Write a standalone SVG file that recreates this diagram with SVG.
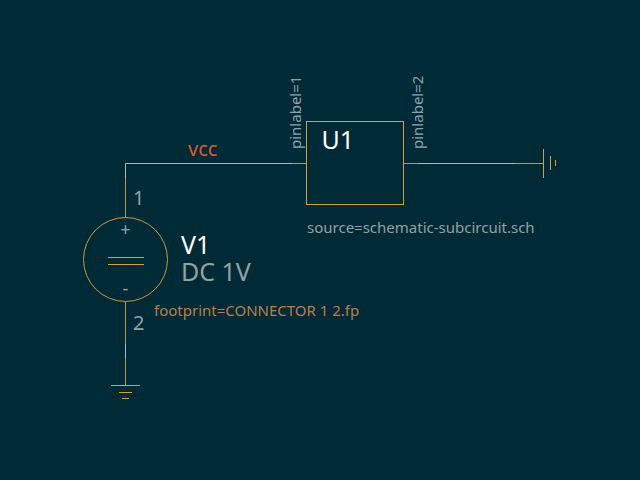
<svg xmlns="http://www.w3.org/2000/svg" width="640" height="480" viewBox="0 0 640 480">
<style>
text{font-family:"Noto Sans","Open Sans",sans-serif}
.w{stroke:#a9bcbf;stroke-width:1;fill:none}
.p{stroke:#b8975f;stroke-width:1;fill:none}
.s{stroke:#d4a136;stroke-width:1;fill:none}
.g{fill:#8da4ad}
</style>
<rect width="640" height="480" fill="#002b36"/>
<g id="connectors">
<path class="w" d="M125.500 178V163.500H292M418 163.500H515M125.500 358V344"/>
</g>
<g id="V1">
<path class="p" d="M125.500 178V217M125.500 302V344"/>
<circle cx="125.500" cy="259.500" r="42" fill="none" stroke="#c49a45"/>
<path class="s" d="M108 257.500H144M108 264.500H144"/>
<text x="125.500" y="236" font-size="18" text-anchor="middle" class="g">+</text>
<text x="125.500" y="295" font-size="18" text-anchor="middle" class="g">-</text>
<text x="133" y="205" font-size="20" class="g">1</text>
<text x="133" y="330" font-size="20" class="g">2</text>
<text x="181" y="254" font-size="25" fill="#fff">V1</text>
<text x="181" y="281" font-size="25" fill="#93a1a1">DC 1V</text>
<text x="154" y="316" font-size="15" fill="#b87f50">footprint=CONNECTOR 1 2.fp</text>
</g>
<g id="U1">
<path class="p" d="M292 163.500H306M404 163.500H418"/>
<rect class="s" x="306.500" y="121.500" width="97" height="83"/>
<text x="321.500" y="148.500" font-size="25" fill="#fff">U1</text>
<text transform="translate(301 149) rotate(-90)" font-size="15" class="g">pinlabel=1</text>
<text transform="translate(423 149) rotate(-90)" font-size="15" class="g">pinlabel=2</text>
<text x="307" y="233" font-size="15" fill="#93a1a1">source=schematic-subcircuit.sch</text>
</g>
<g id="VCC">
<text x="188" y="156" font-size="20" fill="#dc5a32">vcc</text>
</g>
<g id="GND1">
<path class="p" d="M125.500 358V385"/>
<path class="s" d="M111 385.500H140M119 392.500H132M122 398.500H129"/>
</g>
<g id="GND2">
<path class="p" d="M515 163.500H543"/>
<path class="s" d="M543.500 149V178M550.500 156V170M555.500 160V166"/>
</g>
</svg>
